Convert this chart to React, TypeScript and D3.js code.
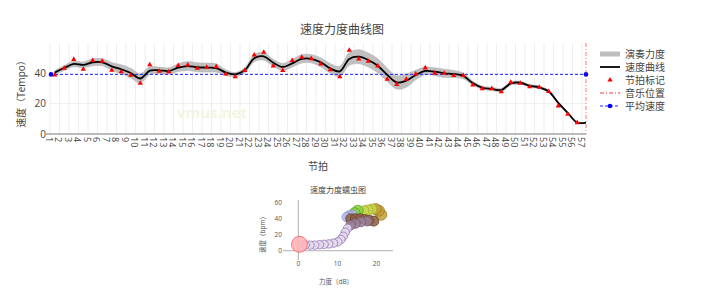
import React from "react";
import * as d3 from "d3";

// ---- main chart data ----
const beatLabels = d3.range(1, 58).map(String);
const tempoMarks = [
  38.9, 43.3, 49.2, 42.7, 48.4, 48, 42, 41.1, 38.7, 33.4,
  45.7, 41.4, 41.1, 45.1, 45.5, 43.3, 44, 44.4, 39.6, 37.8,
  41.8, 52.1, 53.9, 44.9, 41.8, 48.4, 50.6, 49.7, 46.2, 42.4,
  37.8, 55.2, 49.4, 48, 44.9, 36.1, 32.7, 36.1, 39.6, 43.6,
  40, 40, 38.6, 38.6, 32.3, 29.9, 29.9, 27.9, 34.1, 33.4,
  31.2, 30.8, 28, 18.5, 13, 7.5,
];
const smoothTempo = [
  40.5, 43.5, 46.2, 45.6, 47.3, 47.3, 44.6, 42.7, 40.2, 36.6,
  41.8, 42, 41.5, 43.8, 44.8, 44, 43.8, 43.5, 40.5, 39.3,
  42, 50, 51.2, 47, 44.2, 46.6, 49.5, 49.6, 47.3, 43.3,
  41.3, 49.5, 51, 48.8, 45, 39, 34, 35.2, 38.9, 41.6,
  41.1, 40, 39.6, 38.3, 33.6, 30.5, 29.7, 29, 33.3, 33.8,
  31.7, 30.8, 28, 20.5, 14, 7.5, 7.5,
];
const dynamics = [
  6, 8, 9, 9, 11, 11, 12, 14, 15, 15,
  12, 10, 10, 12, 14, 14, 14, 13, 9, 6,
  8, 11, 12, 11, 11, 12, 13, 13, 14, 15,
  16, 20, 22, 22, 22, 21, 21, 21, 15, 12,
  12, 13, 11, 9, 6, 5, 5, 5, 5, 5,
  4, 4, 4, 3, 2, 1.5, 1.5,
];
const avgTempo = 39.3;
const musicPosition = 57.42;
const yTicks = [0, 20, 40];
const legendLabels = ["演奏力度", "速度曲线", "节拍标记", "音乐位置", "平均速度"];

// ---- worm chart data ----
const wormDynamics = [
  21.2, 20.6, 19.8, 18.8, 17.8, 16.8, 15.2, 14.4, 13.8, 13.0,
  12.4, 13.4, 14.6, 15.8, 17.0, 18.2, 19.3, 17.6, 16.0, 14.6,
  13.4, 12.6, 12.0, 11.5, 10.9, 10.1, 9.0, 7.8, 6.6, 5.4,
  4.2, 3.0, 1.8, 0.3,
];
const wormTempo = [
  45, 50, 52, 52, 51, 50, 50, 47, 45, 44,
  42, 40, 40, 40, 39, 38, 37, 37, 36, 34,
  32, 28, 23, 18, 14, 11, 9.5, 8.5, 8, 7.5,
  7, 7, 7.2, 8,
];
const wormGroup = [
  "gold", "gold", "gold", "lime", "lime", "lime", "green", "green", "blue", "blue",
  "blue", "brown", "brown", "brown", "brown", "brown", "brown", "mauve", "mauve", "mauve",
  "mauve", "purple", "purple", "purple", "purple", "purple", "purple", "purple", "purple", "purple",
  "purple", "purple", "purple", "pink",
];
const wormXTicks = [0, 10, 20];
const wormYTicks = [0, 20, 40, 60];

const wormStyle: Record<string, { fill: string; stroke: string; r: number }> = {
  gold: { fill: "#c4a03a", stroke: "#9c7a1c", r: 5.5 },
  lime: { fill: "#c8d650", stroke: "#a0ac30", r: 5 },
  green: { fill: "#86d040", stroke: "#5ea624", r: 5.5 },
  blue: { fill: "#b4bcee", stroke: "#8890cc", r: 4.8 },
  brown: { fill: "#8c5e40", stroke: "#6a4228", r: 5 },
  mauve: { fill: "#9c8096", stroke: "#74566e", r: 4.8 },
  purple: { fill: "#e4daee", stroke: "#9474b0", r: 4.2 },
  pink: { fill: "#ffb0b4", stroke: "#ff5a60", r: 8 },
};

const FONT = "'Open Sans', 'Noto Sans CJK SC', sans-serif";

export default function App() {
  const x = d3.scaleLinear().domain([1, musicPosition]).range([50, 586]);
  const y = d3.scaleLinear().domain([0, 60]).range([134, 43]);
  const bandScale = 0.21;
  const markPos = tempoMarks.map((_, i) => i + 1.5);
  const linePos = [...markPos, musicPosition];
  const curve = d3.curveCatmullRom.alpha(0.5);
  const line = d3
    .line<number>()
    .x((_, i) => x(linePos[i]))
    .y((v) => y(v))
    .curve(curve);
  const band = d3
    .area<number>()
    .x((_, i) => x(linePos[i]))
    .y0((v, i) => y(v - dynamics[i] * bandScale))
    .y1((v, i) => y(v + dynamics[i] * bandScale))
    .curve(curve);
  const tri = d3.symbol(d3.symbolTriangle, 12)() || "";
  const triLegend = d3.symbol(d3.symbolTriangle, 12)() || "";

  const [x0, x1] = x.range();
  const [yb, yt] = y.range();

  // worm scales
  const wx = d3.scaleLinear().domain([-3.9, 24.2]).range([283, 393]);
  const wy = d3.scaleLinear().domain([-11.6, 63.4]).range([260, 200]);

  const legendY = [54, 67, 80, 93, 106];

  return (
    <div style={{ position: "fixed", left: 0, top: 0 }}>
      <svg width={710} height={296} style={{ display: "block", background: "#fff" }} fontFamily={FONT}>
        {/* title */}
        <text x={342} y={34} textAnchor="middle" fontSize={12} fill="#444">
          速度力度曲线图
        </text>

        {/* grid */}
        {beatLabels.map((b) => (
          <line key={"g" + b} x1={x(+b)} x2={x(+b)} y1={yt} y2={yb} stroke="#eeeeee" strokeWidth={1} />
        ))}
        {yTicks.filter((t) => t > 0).map((t) => (
          <line key={"h" + t} x1={x0} x2={x1} y1={y(t)} y2={y(t)} stroke="#eeeeee" strokeWidth={1} />
        ))}

        {/* watermark */}
        <text x={212} y={118} textAnchor="middle" fontSize={15} fontWeight="bold" fill="#f0f5da" opacity={0.8}>
          vmus.net
        </text>

        {/* band */}
        <path d={band(smoothTempo) || ""} fill="#bdbdbd" stroke="#a8a8a8" strokeWidth={0.5} opacity={0.95} />
        {/* average */}
        <line x1={x0} x2={x1} y1={y(avgTempo)} y2={y(avgTempo)} stroke="#2222ff" strokeWidth={1} strokeDasharray="3,2" />
        <circle cx={x0 + 1} cy={y(avgTempo)} r={2.3} fill="#0000ff" />
        <circle cx={x1} cy={y(avgTempo)} r={2.3} fill="#0000ff" />
        {/* smooth line */}
        <path d={line(smoothTempo) || ""} fill="none" stroke="#000" strokeWidth={1.8} />
        {/* marks */}
        {tempoMarks.map((v, i) => (
          <path key={"t" + i} d={tri} transform={`translate(${x(markPos[i])},${y(v)})`} fill="#ff0000" />
        ))}
        {/* music position */}
        <line x1={x(musicPosition)} x2={x(musicPosition)} y1={yt} y2={yb} stroke="#ff0000" strokeOpacity={0.55} strokeWidth={1} strokeDasharray="4,2,1,2" />

        {/* axes */}
        <line x1={46} x2={x1} y1={yb} y2={yb} stroke="#777" strokeWidth={1} />
        {yTicks.map((t) => (
          <text key={"yt" + t} x={46} y={y(t)} dy="0.35em" textAnchor="end" fontSize={10} fill="#444">
            {t}
          </text>
        ))}
        {beatLabels.map((b) => (
          <text
            key={"xt" + b}
            transform={`translate(${x(+b) - 1},${yb + 3}) rotate(90)`}
            dy="0.35em"
            textAnchor="start"
            fontSize={9}
            fill="#444"
          >
            {b}
          </text>
        ))}
        <text x={318} y={170} textAnchor="middle" fontSize={10} fill="#444">
          节拍
        </text>
        <text transform={`translate(25,${(yt + yb) / 2 + 3}) rotate(-90)`} textAnchor="middle" fontSize={10} fill="#444">
          速度（Tempo）
        </text>

        {/* legend */}
        <line x1={600} x2={620} y1={legendY[0]} y2={legendY[0]} stroke="#bdbdbd" strokeWidth={5} />
        <line x1={600} x2={620} y1={legendY[1]} y2={legendY[1]} stroke="#000" strokeWidth={1.8} />
        <path d={triLegend} transform={`translate(610,${legendY[2]})`} fill="#ff0000" />
        <line x1={600} x2={620} y1={legendY[3]} y2={legendY[3]} stroke="#ff0000" strokeOpacity={0.8} strokeWidth={1} strokeDasharray="4,2,1,2" />
        <line x1={600} x2={620} y1={legendY[4]} y2={legendY[4]} stroke="#2222ff" strokeWidth={1} strokeDasharray="3,2" />
        <circle cx={610} cy={legendY[4]} r={2.3} fill="#0000ff" />
        {legendLabels.map((l, i) => (
          <text key={l} x={625} y={legendY[i]} dy="0.35em" fontSize={10} fill="#444">
            {l}
          </text>
        ))}

        {/* worm chart */}
        <text x={338} y={193} textAnchor="middle" fontSize={8} fill="#444">
          速度力度蠕虫图
        </text>
        <line x1={wx(0)} x2={wx(0)} y1={wy(63.4)} y2={wy(-11.6)} stroke="#999" strokeWidth={0.8} />
        <line x1={wx(-3.9)} x2={wx(24.2)} y1={wy(0)} y2={wy(0)} stroke="#999" strokeWidth={0.8} />
        {wormYTicks.map((t) => (
          <text key={"wy" + t} x={282} y={wy(t)} dy="0.35em" textAnchor="end" fontSize={6.5} fill="#555">
            {t}
          </text>
        ))}
        {wormXTicks.map((t) => (
          <text key={"wx" + t} x={wx(t)} y={266} textAnchor="middle" fontSize={6.5} fill="#555">
            {t}
          </text>
        ))}
        <text x={336} y={284} textAnchor="middle" fontSize={6.5} fill="#555">
          力度（dB）
        </text>
        <text transform={`translate(265,233) rotate(-90)`} textAnchor="middle" fontSize={6.5} fill="#555">
          速度（bpm）
        </text>
        {wormDynamics.map((d, i) => {
          const s = wormStyle[wormGroup[i]];
          return (
            <circle
              key={"w" + i}
              cx={wx(d)}
              cy={wy(wormTempo[i])}
              r={s.r}
              fill={s.fill}
              fillOpacity={0.85}
              stroke={s.stroke}
              strokeWidth={0.8}
            />
          );
        })}
      </svg>
    </div>
  );
}
